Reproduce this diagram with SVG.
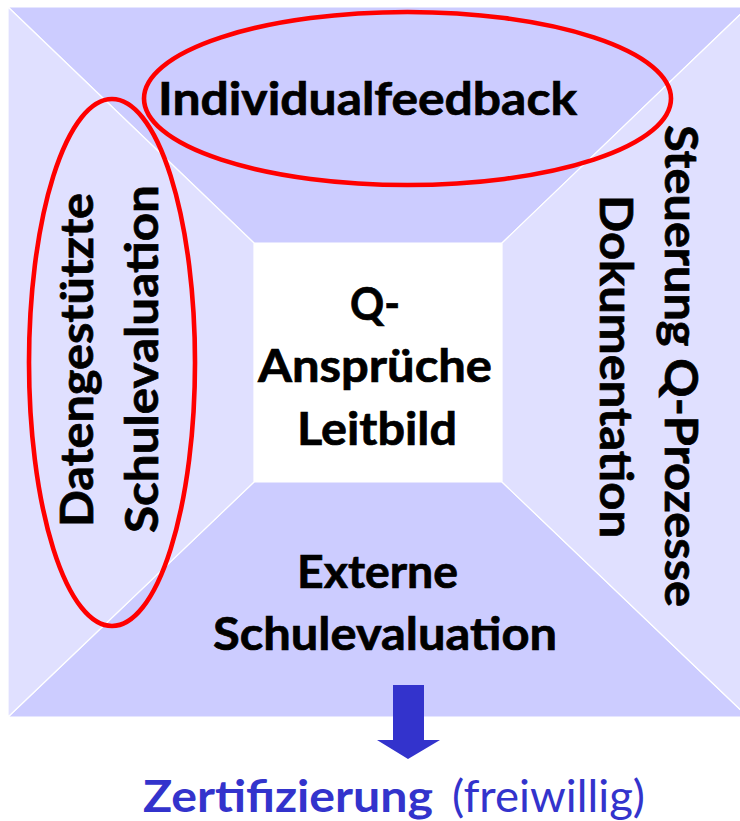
<svg xmlns="http://www.w3.org/2000/svg" width="740" height="821" viewBox="0 0 740 821">
  <style>
    .dark { fill: #CCCCFF; stroke: #FFFFFF; stroke-width: 1.2; }
    .light { fill: #E0E0FF; stroke: #FFFFFF; stroke-width: 1.2; }
    .label { font-family: Lato, "Liberation Sans", sans-serif; font-weight: bold; font-size: 46px; fill: #000000; stroke: #000000; stroke-width: 0.7; }
    .ring { fill: none; stroke: #FF0000; stroke-width: 4.6; }
    .cert { font-family: Lato, "Liberation Sans", sans-serif; font-size: 44px; fill: #3333CC; }
  </style>
  <rect x="0" y="0" width="740" height="821" fill="#FFFFFF"/>

  <!-- frame: four trapezoids around the central square -->
  <g id="top">
    <polygon class="dark" points="8,7 748,7 502,243 254,243"/>
    <text class="label" x="158" y="115" textLength="419" lengthAdjust="spacingAndGlyphs">Individualfeedback</text>
  </g>
  <g id="bottom">
    <polygon class="dark" points="8,717 748,717 502,482 254,482"/>
    <text class="label" x="297" y="588" textLength="161" lengthAdjust="spacingAndGlyphs">Externe</text>
    <text class="label" x="213" y="650" textLength="344" lengthAdjust="spacingAndGlyphs">Schulevaluation</text>
  </g>
  <g id="left">
    <polygon class="light" points="8,7 254,243 254,482 8,717"/>
    <text class="label" transform="translate(93,527) rotate(-90)" x="0" y="0" textLength="334" lengthAdjust="spacingAndGlyphs">Datengestützte</text>
    <text class="label" transform="translate(158,533) rotate(-90)" x="0" y="0" textLength="348" lengthAdjust="spacingAndGlyphs">Schulevaluation</text>
  </g>
  <g id="right">
    <polygon class="light" points="748,7 502,243 502,482 748,717"/>
    <text class="label" transform="translate(665,125) rotate(90)" x="0" y="0" textLength="482" lengthAdjust="spacingAndGlyphs">Steuerung Q-Prozesse</text>
    <text class="label" transform="translate(600,195) rotate(90)" x="0" y="0" textLength="343" lengthAdjust="spacingAndGlyphs">Dokumentation</text>
  </g>
  <g id="center">
    <rect x="254" y="243" width="248" height="239" fill="#FFFFFF"/>
    <text class="label" x="350" y="320" textLength="50" lengthAdjust="spacingAndGlyphs">Q-</text>
    <text class="label" x="258" y="382" textLength="234" lengthAdjust="spacingAndGlyphs">Ansprüche</text>
    <text class="label" x="297" y="445" textLength="160" lengthAdjust="spacingAndGlyphs">Leitbild</text>
  </g>

  <!-- red highlight rings -->
  <g id="highlights">
    <ellipse class="ring" cx="112" cy="362.5" rx="83" ry="263.5"/>
    <ellipse class="ring" cx="407.5" cy="98.5" rx="263.5" ry="86.5"/>
  </g>

  <!-- arrow to certification -->
  <g id="connectors">
    <polygon fill="#3333CC" points="393,685 424,685 424,740 440,740 408,759 377,740 393,740"/>
  </g>

  <g id="certification">
    <text class="cert" x="143" y="812"><tspan font-weight="bold" textLength="290" lengthAdjust="spacingAndGlyphs">Zertifizierung</tspan></text>
    <text class="cert" x="452" y="812" textLength="193" lengthAdjust="spacingAndGlyphs">(freiwillig)</text>
  </g>
</svg>
